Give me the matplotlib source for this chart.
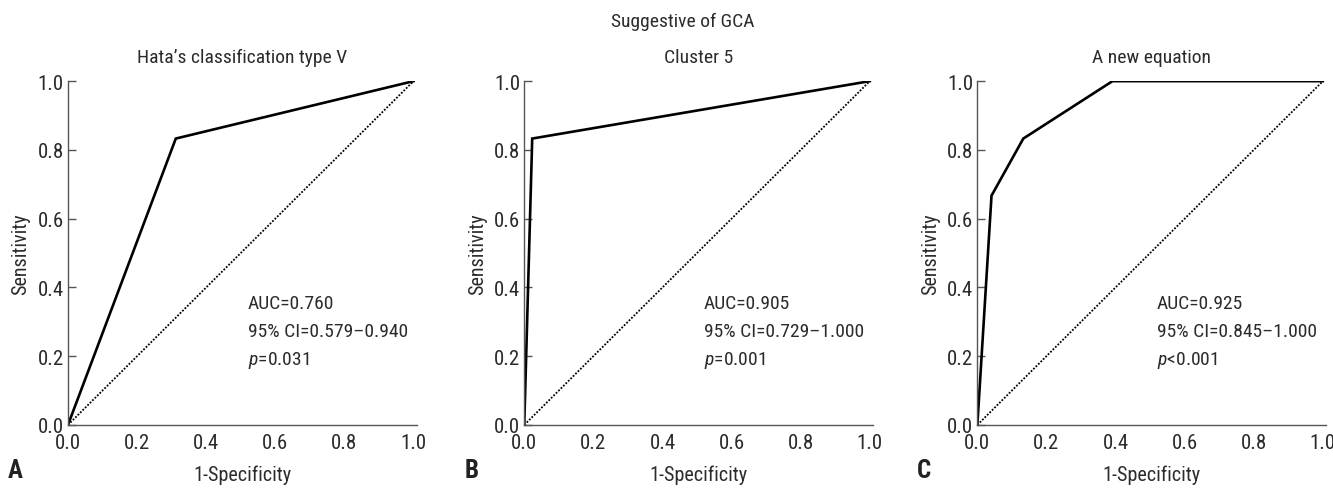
#!/usr/bin/env python3
import matplotlib
matplotlib.use("Agg")
import matplotlib.pyplot as plt

FONTS = ["Roboto Condensed", "Archivo Narrow", "Barlow Semi Condensed", "DejaVu Sans"]
plt.rcParams["font.family"] = FONTS
plt.rcParams["mathtext.fontset"] = "custom"
plt.rcParams["mathtext.it"] = "Roboto Condensed:italic"

# ROC curves
fpr_a = [0.0, 0.312, 1.0]
tpr_a = [0.0, 0.833, 1.0]

fpr_b = [0.0, 0.023, 1.0]
tpr_b = [0.0, 0.833, 1.0]

fpr_c = [0.0, 0.041, 0.133, 0.391, 1.0]
tpr_c = [0.0, 0.667, 0.833, 1.0, 1.0]

titles = ["Hata\u2019s classification type V", "Cluster 5", "A new equation"]
letters = ["A", "B", "C"]
auc_text = ["AUC=0.760", "AUC=0.905", "AUC=0.925"]
ci_text = ["95% CI=0.579\u20130.940", "95% CI=0.729\u20131.000", "95% CI=0.845\u20131.000"]
p_sign = ["=", "=", "<"]
p_val = ["0.031", "0.001", "0.001"]
ticks = [0.0, 0.2, 0.4, 0.6, 0.8, 1.0]

curves = [(fpr_a, tpr_a), (fpr_b, tpr_b), (fpr_c, tpr_c)]
lefts = [0.0510, 0.3933, 0.7332]

txt_col = "#2b2b2b"
spine_col = "#555555"

fig = plt.figure(figsize=(13.33, 4.89), dpi=100)

for i, (fpr, tpr) in enumerate(curves):
    ax = fig.add_axes([lefts[i], 0.129, 0.2618, 0.703])
    # chance diagonal
    ax.plot([0, 1], [0, 1], color="black", linestyle=(0, (1.0, 0.9)), linewidth=1.3)
    ax.plot(fpr, tpr, color="black", linewidth=1.9, solid_joinstyle="miter")
    ax.set_xlim(0, 1.01)
    ax.set_ylim(0, 1.0)
    ax.set_xticks(ticks)
    ax.set_yticks(ticks)
    ax.set_xticklabels([f"{t:.1f}" for t in ticks])
    ax.set_yticklabels([f"{t:.1f}" for t in ticks])
    ax.tick_params(axis="x", length=0, pad=6, labelsize=15, colors=txt_col)
    ax.tick_params(axis="y", direction="in", length=6, width=1, pad=3,
                   labelsize=15, colors=spine_col, labelcolor=txt_col)
    for s in ["top", "right"]:
        ax.spines[s].set_visible(False)
    for s in ["left", "bottom"]:
        ax.spines[s].set_color(spine_col)
        ax.spines[s].set_linewidth(1.0)
    ax.set_xlabel("1-Specificity", fontsize=14.5, color=txt_col, labelpad=9)
    ax.set_ylabel("Sensitivity", fontsize=14.5, color=txt_col, labelpad=5)
    ax.set_title(titles[i], fontsize=14, color=txt_col, pad=14)
    ax.text(0.52, 0.355, auc_text[i], fontsize=14, color=txt_col, va="center")
    ax.text(0.52, 0.273, ci_text[i], fontsize=14, color=txt_col, va="center")
    ax.text(0.52, 0.191, r"$\mathit{p}$" + p_sign[i] + p_val[i], fontsize=14,
            color=txt_col, va="center")
    fig.text(lefts[i] - 0.045, 0.022, letters[i], fontsize=18, fontweight="bold",
             color="#222222")

fig.text(0.5125, 0.955, "Suggestive of GCA", fontsize=14, color=txt_col, ha="center",
         va="center")

fig.savefig("out.png", dpi=100)
